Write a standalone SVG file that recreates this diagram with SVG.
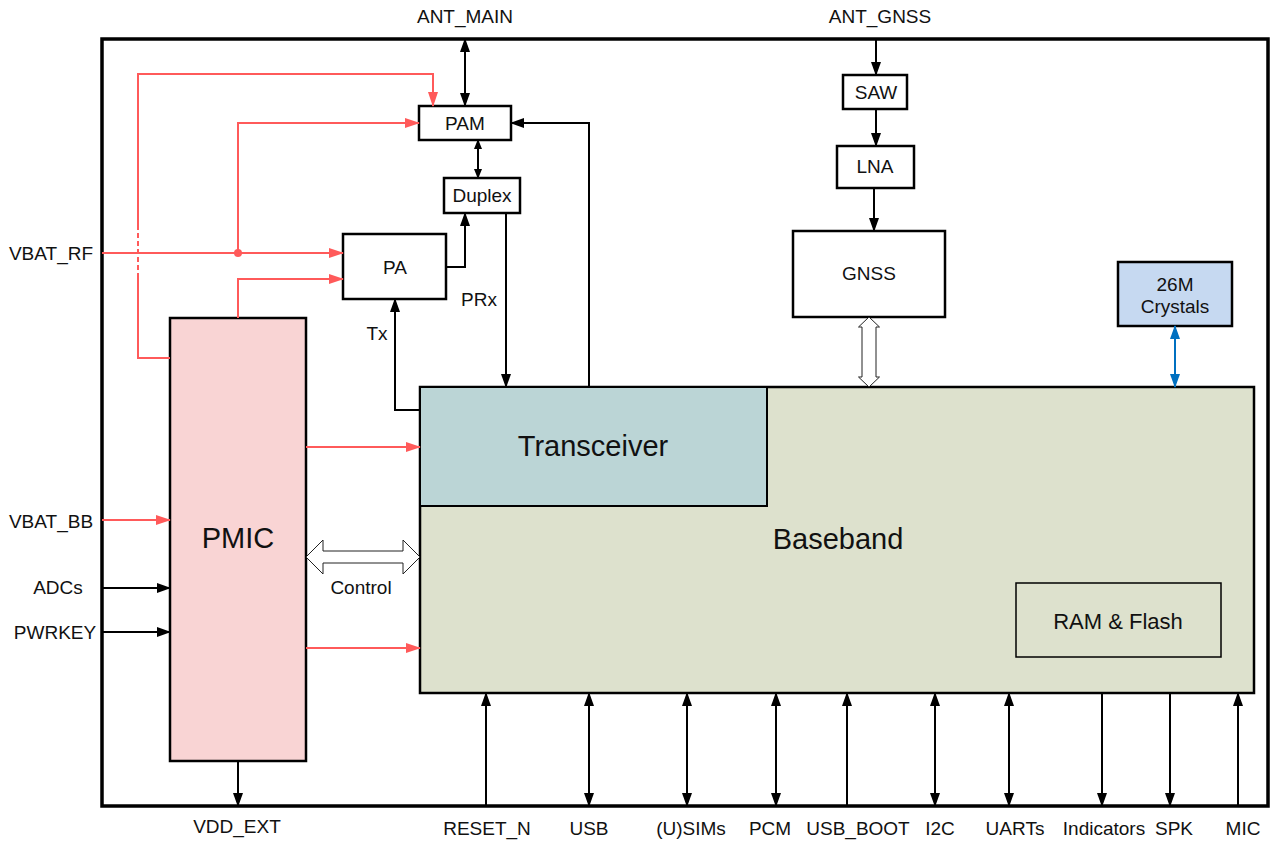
<svg xmlns="http://www.w3.org/2000/svg" width="1271" height="843" viewBox="0 0 1271 843">
<style>
text{font-family:"Liberation Sans",Arial,sans-serif;fill:#111;text-anchor:middle;dominant-baseline:central}
.lbl{font-size:19px}
.big{font-size:29px}
.box{fill:#fff;stroke:#000;stroke-width:2.5}
.k{fill:none;stroke:#000;stroke-width:2}
.r{fill:none;stroke:#FF5A5A;stroke-width:2}
.b{fill:none;stroke:#0070C0;stroke-width:2}
.hollow{fill:#fff;stroke:#222;stroke-width:1}
</style>
<defs>
<marker id="ak" markerUnits="userSpaceOnUse" markerWidth="14" markerHeight="10" refX="13" refY="5" orient="auto-start-reverse"><path d="M0,0 L14,5 L0,10 z" fill="#000"/></marker>
<marker id="aks" markerUnits="userSpaceOnUse" markerWidth="10" markerHeight="8" refX="9" refY="4" orient="auto-start-reverse"><path d="M0,0 L10,4 L0,8 z" fill="#000"/></marker>
<marker id="ar" markerUnits="userSpaceOnUse" markerWidth="15" markerHeight="10" refX="14" refY="5" orient="auto-start-reverse"><path d="M0,0 L15,5 L0,10 z" fill="#FF5A5A"/></marker>
<marker id="ab" markerUnits="userSpaceOnUse" markerWidth="14" markerHeight="10" refX="13" refY="5" orient="auto-start-reverse"><path d="M0,0 L14,5 L0,10 z" fill="#0070C0"/></marker>
</defs>
<rect width="1271" height="843" fill="#fff"/>
<g id="frame"><rect x="102" y="39" width="1166" height="767" fill="none" stroke="#000" stroke-width="3.5"/></g>

<g id="baseband"><rect x="420" y="387" width="834" height="306" fill="#DDE1CD" stroke="#000" stroke-width="2.5"/><text class="big" x="838" y="539">Baseband</text></g>
<g id="transceiver"><rect x="420" y="387" width="347" height="119" fill="#BBD5D6" stroke="#000" stroke-width="2"/><text class="big" x="593" y="446">Transceiver</text></g>
<g id="ramflash"><rect x="1016" y="583" width="205" height="74" fill="none" stroke="#000" stroke-width="1.5"/><text x="1118" y="621" style="font-size:22px">RAM &amp; Flash</text></g>
<g id="pmic"><rect x="170" y="318" width="136" height="443" fill="#F9D4D4" stroke="#000" stroke-width="2.5"/><text class="big" x="238" y="538">PMIC</text></g>
<g id="pam"><rect class="box" x="419" y="106" width="92" height="34"/><text class="lbl" x="465" y="123">PAM</text></g>
<g id="duplex"><rect class="box" x="444" y="178" width="76" height="35"/><text class="lbl" x="482" y="195">Duplex</text></g>
<g id="pa"><rect class="box" x="343" y="234" width="103" height="65"/><text class="lbl" x="395" y="267">PA</text></g>
<g id="saw"><rect class="box" x="843" y="75" width="64" height="34"/><text class="lbl" x="876" y="92">SAW</text></g>
<g id="lna"><rect class="box" x="837" y="146" width="77" height="42"/><text class="lbl" x="875" y="166">LNA</text></g>
<g id="gnss"><rect class="box" x="793" y="231" width="152" height="86"/><text class="lbl" x="869" y="273">GNSS</text></g>
<g id="crystals"><rect x="1118" y="262" width="114" height="64" fill="#C6D9F1" stroke="#000" stroke-width="2.5"/><text class="lbl" x="1175" y="284">26M</text><text class="lbl" x="1175" y="306">Crystals</text></g>

<g id="connectors">
<path class="r" d="M102,253 H343" marker-end="url(#ar)"/>
<circle cx="238" cy="253" r="4" fill="#FF5A5A"/>
<path class="r" d="M238,253 V123 H419" marker-end="url(#ar)"/>
<path class="r" d="M170,358 H138 V278"/>
<path class="r" d="M138,278 V230" stroke-dasharray="5,3"/>
<path class="r" d="M138,230 V74 H433 V106" marker-end="url(#ar)"/>
<path class="r" d="M238,318 V279 H343" marker-end="url(#ar)"/>
<path class="r" d="M102,520 H170" marker-end="url(#ar)"/>
<path class="r" d="M306,447 H420" marker-end="url(#ar)"/>
<path class="r" d="M306,648 H420" marker-end="url(#ar)"/>
<path class="k" d="M102,588 H170" marker-end="url(#ak)"/>
<path class="k" d="M102,632 H170" marker-end="url(#ak)"/>
<path class="k" d="M465,39 V106" marker-start="url(#ak)" marker-end="url(#ak)"/>
<path class="k" d="M478,140 V178" stroke-width="1.5" marker-start="url(#aks)" marker-end="url(#aks)"/>
<path class="k" d="M446,267 H465 V213" marker-end="url(#ak)"/>
<path class="k" d="M420,410 H395 V299" marker-end="url(#ak)"/>
<path class="k" d="M506,213 V387" marker-end="url(#ak)"/>
<path class="k" d="M589,387 V123 H511" marker-end="url(#ak)"/>
<path class="k" d="M876,39 V75" marker-end="url(#ak)"/>
<path class="k" d="M876,109 V146" marker-end="url(#ak)"/>
<path class="k" d="M874,188 V231" marker-end="url(#ak)"/>
<path class="b" d="M1175,326 V387" marker-start="url(#ab)" marker-end="url(#ab)"/>
<path class="k" d="M238,761 V806" marker-end="url(#ak)"/>
<path class="k" d="M486,806 V693" marker-end="url(#ak)"/>
<path class="k" d="M589,806 V693" marker-start="url(#ak)" marker-end="url(#ak)"/>
<path class="k" d="M687,806 V693" marker-start="url(#ak)" marker-end="url(#ak)"/>
<path class="k" d="M776,806 V693" marker-start="url(#ak)" marker-end="url(#ak)"/>
<path class="k" d="M847,806 V693" marker-end="url(#ak)"/>
<path class="k" d="M935,806 V693" marker-start="url(#ak)" marker-end="url(#ak)"/>
<path class="k" d="M1009,806 V693" marker-start="url(#ak)" marker-end="url(#ak)"/>
<path class="k" d="M1102,693 V806" marker-end="url(#ak)"/>
<path class="k" d="M1170,693 V806" marker-end="url(#ak)"/>
<path class="k" d="M1238,806 V693" marker-end="url(#ak)"/>
<path class="hollow" d="M306,557 L323,540 V551 H403 V540 L420,557 L403,574 V563 H323 V574 Z"/>
<path class="hollow" d="M869,317 L879.5,327 H876 V377 H879.5 L869,387 L858.5,377 H862 V327 H858.5 Z"/>
</g>

<g id="labels">
<text class="lbl" x="51" y="253">VBAT_RF</text>
<text class="lbl" x="465" y="16">ANT_MAIN</text>
<text class="lbl" x="880" y="16">ANT_GNSS</text>
<text class="lbl" x="51" y="521">VBAT_BB</text>
<text class="lbl" x="58" y="587">ADCs</text>
<text class="lbl" x="55" y="632">PWRKEY</text>
<text class="lbl" x="377" y="333">Tx</text>
<text class="lbl" x="479" y="299">PRx</text>
<text class="lbl" x="361" y="587">Control</text>
<text class="lbl" x="237" y="826">VDD_EXT</text>
<text class="lbl" x="487" y="828">RESET_N</text>
<text class="lbl" x="589" y="828">USB</text>
<text class="lbl" x="691" y="828">(U)SIMs</text>
<text class="lbl" x="770" y="828">PCM</text>
<text class="lbl" x="858" y="828">USB_BOOT</text>
<text class="lbl" x="940" y="828">I2C</text>
<text class="lbl" x="1015" y="828">UARTs</text>
<text class="lbl" x="1104" y="828">Indicators</text>
<text class="lbl" x="1174" y="828">SPK</text>
<text class="lbl" x="1243" y="828">MIC</text>
</g>
</svg>
